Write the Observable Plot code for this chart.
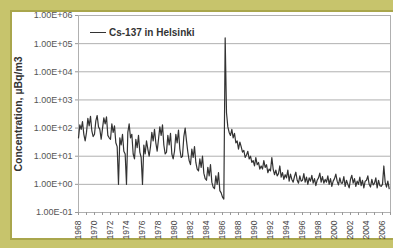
<!DOCTYPE html>
<html><head><meta charset="utf-8">
<script src="https://cdn.jsdelivr.net/npm/d3@7"></script>
<script src="https://cdn.jsdelivr.net/npm/@observablehq/plot@0.6"></script>
<style>
html,body{margin:0;padding:0;background:#fff;}
#wrap{position:relative;width:393px;height:248px;overflow:hidden;background:#c7c46c;font-family:Arial,"Liberation Sans",sans-serif;}
#panel{position:absolute;left:10px;top:10px;width:400px;height:230px;background:#fff;border:2px solid #a9a64c;box-sizing:border-box;}
#chart{position:absolute;left:0;top:0;}
#legend{position:absolute;left:90px;top:27px;font-size:10px;font-weight:bold;color:#333;display:flex;align-items:center;white-space:nowrap;}
#legend .sw{display:inline-block;width:16px;height:0;border-top:1.3px solid #333;margin-right:3px;}
</style></head>
<body>
<div id="wrap"><div id="panel"></div><div id="chart"></div>
<div id="legend"><span class="sw"></span><span>Cs-137 in Helsinki</span></div></div>
<script>
const seriesName = "Cs-137 in Helsinki";
const yTitle = "Concentration, µBq/m3";
const startYear = 1968;
const samplesPerYear = 6;
// Concentration (µBq/m3), six readings per year, 1968 onwards
const conc = [
  45, 130, 90, 170, 60, 35,        // 1968
  70, 220, 120, 260, 80, 50,       // 1969
  60, 180, 280, 110, 90, 40,       // 1970
  95, 230, 140, 250, 55, 45,       // 1971
  40, 140, 70, 120, 30, 22,        // 1972
  1.0, 45, 25, 60, 15, 12,         // 1973
  1.0, 70, 140, 45, 60, 12,        // 1974
  8, 40, 20, 55, 14, 9,            // 1975
  1.0, 25, 12, 35, 18, 10,         // 1976
  22, 70, 35, 90, 30, 15,          // 1977
  40, 110, 55, 130, 25, 12,        // 1978
  14, 55, 25, 65, 12, 8,           // 1979
  15, 60, 30, 85, 18, 9,           // 1980
  10, 50, 100, 35, 14, 7,          // 1981
  5, 18, 9, 22, 6, 3.5,            // 1982
  3, 8, 4, 10, 2.5, 1.6,           // 1983
  1.4, 4, 2, 5, 1.2, 0.8,          // 1984
  0.7, 2, 1.0, 2.6, 0.6, 0.5,      // 1985
  0.35, 0.3, 160000, 350, 110, 70, // 1986
  55, 90, 45, 65, 30, 35,          // 1987
  18, 32, 22, 14, 16, 9,           // 1988
  11, 15, 8, 10, 6, 7,             // 1989
  4.5, 9, 5, 6, 3.5, 4.5,          // 1990
  3.5, 7, 4, 5, 2.6, 3.5,          // 1991
  3, 9, 3.5, 2.2, 3.2, 2.0,        // 1992
  2.4, 4.5, 1.8, 2.6, 1.5, 2.2,    // 1993
  1.7, 3.2, 1.3, 2.3, 1.5, 1.2,    // 1994
  1.9, 2.7, 1.4, 1.1, 2.0, 1.3,    // 1995
  1.4, 2.4, 1.2, 1.8, 1.0, 1.7,    // 1996
  1.3, 2.1, 1.1, 1.6, 0.9, 1.4,    // 1997
  1.7, 2.5, 1.2, 1.9, 1.1, 1.5,    // 1998
  1.2, 2.0, 1.0, 1.6, 0.85, 1.3,   // 1999
  1.6, 2.3, 1.3, 0.95, 1.7, 1.1,   // 2000
  1.1, 1.9, 0.85, 1.4, 1.0, 0.75,  // 2001
  1.5, 2.1, 1.1, 1.6, 0.85, 1.3,   // 2002
  1.0, 1.8, 0.9, 1.4, 0.75, 1.3,   // 2003
  1.4, 2.0, 1.0, 0.8, 1.5, 0.95,   // 2004
  1.1, 1.7, 0.75, 1.4, 0.9, 0.85,  // 2005
  1.0, 4.5, 1.2, 0.8, 1.3, 0.7     // 2006
];
const xLabelYears = [1968,1970,1972,1974,1976,1978,1980,1982,1984,1986,1988,1990,1992,1994,1996,1998,2000,2002,2004,2006];
const xTickYears = d3.range(1968, 2008);
const yTicks = [0.1, 1, 10, 100, 1000, 10000, 100000, 1000000];
const yTickLabels = ["1.00E-01","1.00E+00","1.00E+01","1.00E+02","1.00E+03","1.00E+04","1.00E+05","1.00E+06"];

const data = conc.map((v, i) => ({t: startYear + i / samplesPerYear, v}));

const chart = Plot.plot({
  width: 393, height: 248,
  marginLeft: 78, marginRight: 3, marginTop: 15, marginBottom: 36,
  style: {background: "transparent", fontFamily: "Arial, 'Liberation Sans', sans-serif", color: "#333", overflow: "visible"},
  x: {domain: [1968, 2007]},
  y: {type: "log", domain: [0.1, 1e6]},
  marks: [
    Plot.gridY(yTicks, {stroke: "#b0b0b0", strokeOpacity: 1, strokeWidth: 1}),
    Plot.frame({stroke: "#b0b0b0"}),
    Plot.axisY(yTicks, {tickSize: 3, tickPadding: 3, fontSize: 9, fill: "#555", stroke: "#999", label: null,
      tickFormat: d => yTickLabels[yTicks.indexOf(d)]}),
    Plot.axisX(xTickYears, {tickSize: 3, stroke: "#999", tickFormat: () => "", label: null}),
    Plot.axisX(xLabelYears, {tickSize: 0, tickPadding: 8, tickRotate: -90, fontSize: 8.5, fill: "#444", label: null,
      tickFormat: d => String(d)}),
    Plot.text([yTitle], {frameAnchor: "left", dx: -60, rotate: -90, textAnchor: "middle", fontWeight: "bold", fontSize: 10.5, fill: "#333"}),
    Plot.line(data, {x: "t", y: "v", stroke: "#333", strokeWidth: 1.2})
  ]
});
document.getElementById("chart").appendChild(chart);
</script>
</body></html>
